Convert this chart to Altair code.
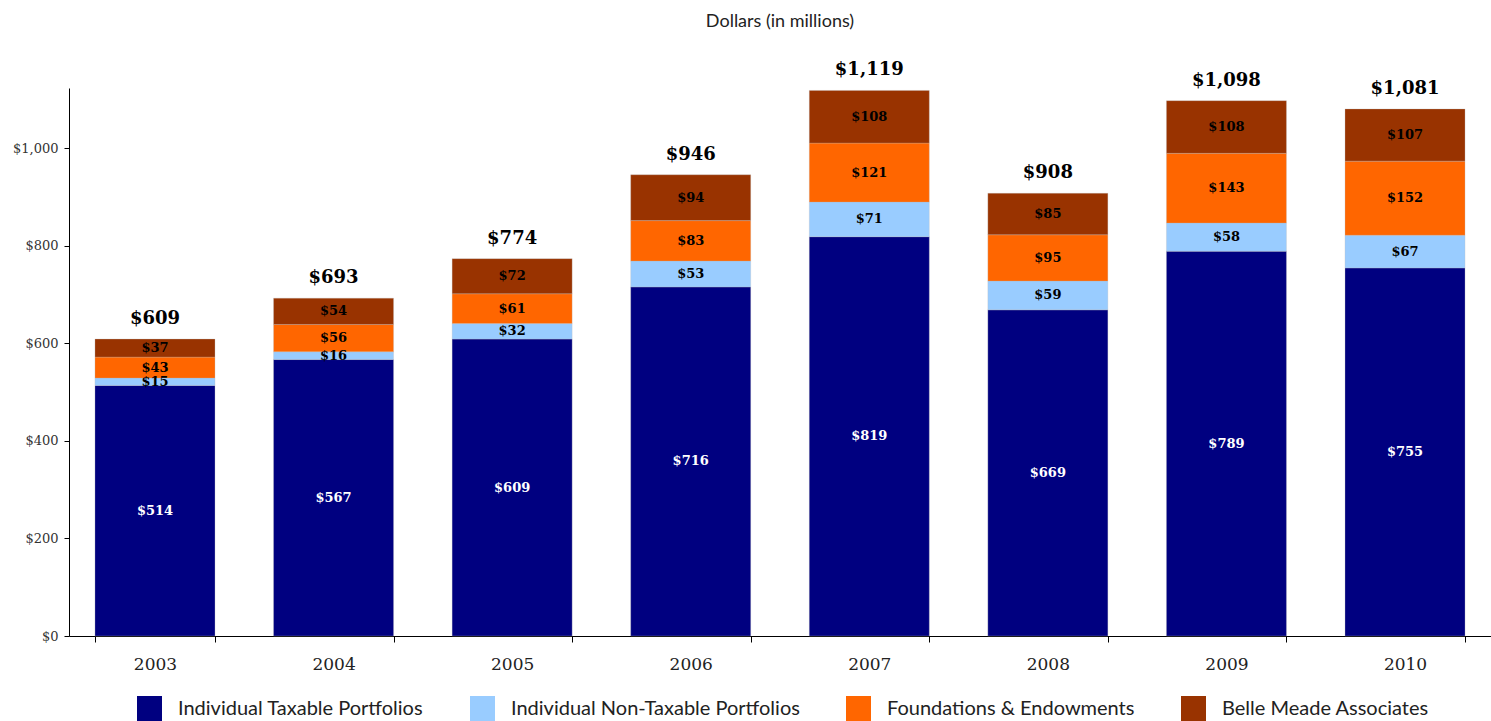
import altair as alt
import pandas as pd

years = ["2003", "2004", "2005", "2006", "2007", "2008", "2009", "2010"]
series = ["Individual Taxable Portfolios", "Individual Non-Taxable Portfolios",
          "Foundations & Endowments", "Belle Meade Associates"]
taxable = [514, 567, 609, 716, 819, 669, 789, 755]
non_taxable = [15, 16, 32, 53, 71, 59, 58, 67]
foundations = [43, 56, 61, 83, 121, 95, 143, 152]
belle_meade = [37, 54, 72, 94, 108, 85, 108, 107]
totals = [609, 693, 774, 946, 1119, 908, 1098, 1081]
colors = ["#000080", "#99CCFF", "#FF6600", "#993300"]
label_colors = ["white", "black", "black", "black"]

rows = []
for i, y in enumerate(years):
    cum = 0
    for k, (s, vals) in enumerate(zip(series, [taxable, non_taxable, foundations, belle_meade])):
        v = vals[i]
        rows.append({"year": y, "series": s, "order": k, "value": v,
                     "mid": cum + v / 2, "label": f"${v:,}", "lc": label_colors[k]})
        cum += v
df = pd.DataFrame(rows)
tot = pd.DataFrame({"year": years, "total": totals, "label": [f"${t:,}" for t in totals]})

ysc = alt.Scale(domain=[0, 1124], nice=False, zero=True)
xenc = alt.X("year:N", sort=years,
             scale=alt.Scale(paddingInner=0.328, paddingOuter=0.1455),
             axis=alt.Axis(title=None, labelAngle=0, labelFont="DejaVu Serif", labelFontSize=17,
                           labelColor="#222", labelPadding=14, tickBand="extent", tickSize=6,
                           domainColor="#000", tickColor="#000"))

bars = alt.Chart(df).mark_bar(stroke="#bbbbbb", strokeWidth=0.5, strokeOpacity=0.6).encode(
    x=xenc,
    y=alt.Y("value:Q", stack="zero", scale=ysc,
            axis=alt.Axis(title=None, format="$,.0f", values=[0, 200, 400, 600, 800, 1000],
                          grid=False, labelFont="DejaVu Serif", labelFontSize=13,
                          labelColor="#333", tickSize=5, domainColor="#000", tickColor="#000",
                          labelPadding=6)),
    color=alt.Color("series:N", sort=series,
                    scale=alt.Scale(domain=series, range=colors),
                    legend=alt.Legend(title=None, orient="none", legendX=68, legendY=608,
                                      direction="horizontal", columns=4, columnPadding=46,
                                      symbolType="square", symbolSize=625, symbolStrokeWidth=0,
                                      labelFont="Lato", labelFontSize=20, labelColor="#222",
                                      labelLimit=500, labelOffset=16)),
    order=alt.Order("order:Q"),
)

seg_text = alt.Chart(df).mark_text(font="DejaVu Serif", fontWeight="bold", fontSize=13,
                                   baseline="middle").encode(
    x=alt.X("year:N", sort=years),
    y=alt.Y("mid:Q", scale=ysc),
    text="label:N",
    color=alt.Color("lc:N", scale=None),
)

tot_text = alt.Chart(tot).mark_text(font="DejaVu Serif", fontWeight="bold", fontSize=18,
                                    baseline="bottom", dy=-11, color="black").encode(
    x=alt.X("year:N", sort=years),
    y=alt.Y("total:Q", scale=ysc),
    text="label:N",
)

chart = alt.layer(bars, seg_text, tot_text).properties(
    width=1422, height=548,
    title=alt.TitleParams("Dollars (in millions)", font="Lato", fontSize=18, fontWeight="normal",
                          color="#222", anchor="middle", offset=30),
    autosize=alt.AutoSizeParams(type="none"),
    padding={"left": 69, "top": 88, "right": 0, "bottom": 85},
).configure_view(stroke=None).configure_axisX(domainWidth=1)

chart.save("out.html", embed_options={"renderer": "svg", "actions": False})
